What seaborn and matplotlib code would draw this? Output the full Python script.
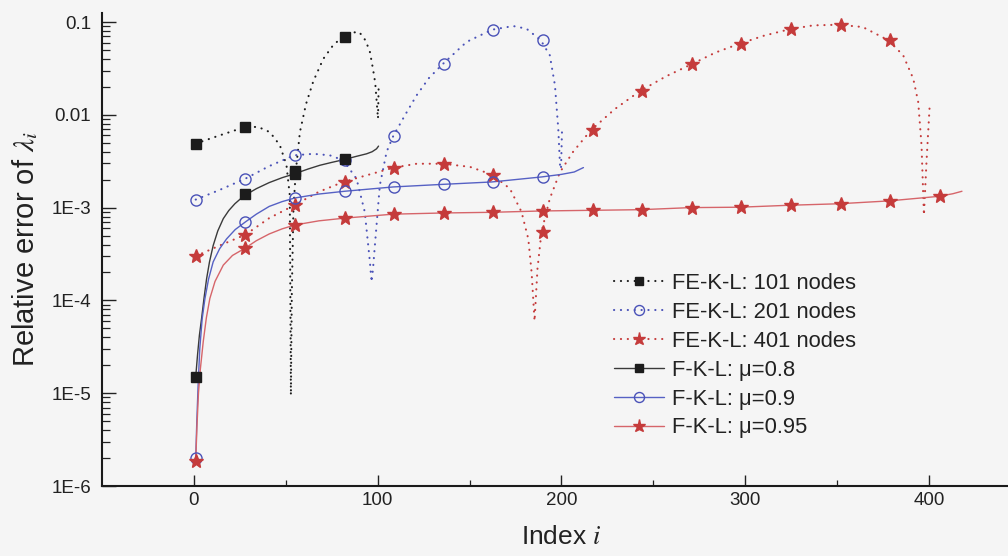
import numpy as np
import pandas as pd
import matplotlib
matplotlib.use("Agg")
import matplotlib.pyplot as plt
from matplotlib.lines import Line2D
from matplotlib.ticker import FixedLocator, NullFormatter, LogLocator
import seaborn as sns

# ---------------- data ----------------
fe101_x = [1, 14, 28, 35, 41.4, 46.8, 50.4, 52.2, 52.8, 53.3, 54.2, 55.5, 57.7, 61, 65, 70.4, 76, 81.3, 86, 90, 93.5, 95.8, 97.5, 98.7, 100.2, 100.6]
fe101_y = [4.9e-3, 6.0e-3, 7.4e-3, 7.4e-3, 6.5e-3, 4.7e-3, 2.86e-3, 1.35e-3, 9.5e-6, 1.2e-4, 1.0e-3, 2.5e-3, 6.5e-3, 1.3e-2, 2.3e-2, 4.0e-2, 5.7e-2, 6.95e-2, 7.7e-2, 7.8e-2, 6.3e-2, 4.75e-2, 3.1e-2, 2.2e-2, 9.1e-3, 2.2e-2]
fe101_mx = [1, 28, 55, 82]
fe101_my = [4.9e-3, 7.4e-3, 2.5e-3, 6.95e-2]

fe201_x = [1, 14, 28, 41, 54.6, 65, 74, 81.3, 88.5, 93, 95.8, 96.7, 97.5, 98.5, 101.2, 104.9, 108.5, 115, 121.2, 128, 135.3, 148.4, 162.2, 173.8, 181, 188.8, 193.7, 196.5, 198.3, 199.3, 199.8, 200.4]
fe201_y = [1.22e-3, 1.55e-3, 2.05e-3, 2.8e-3, 3.66e-3, 3.8e-3, 3.66e-3, 3.24e-3, 2.05e-3, 9e-4, 2.6e-4, 1.58e-4, 2.2e-4, 3.9e-4, 1.74e-3, 4e-3, 5.9e-3, 1.0e-2, 1.62e-2, 2.5e-2, 3.5e-2, 6.1e-2, 8.26e-2, 9.05e-2, 8.47e-2, 6.36e-2, 4.38e-2, 2.08e-2, 7.1e-3, 2.76e-3, 2.6e-3, 7.4e-3]
fe201_mx = [1, 28, 55, 82, 109, 136, 163, 190]
fe201_my = [1.22e-3, 2.05e-3, 3.66e-3, 3.24e-3, 5.9e-3, 3.5e-2, 8.26e-2, 6.36e-2]

fe401_x = [1, 14, 28, 41, 54.6, 68, 81.3, 94, 108.5, 121.2, 135.3, 150.2, 162.2, 172, 178.3, 182, 183.8, 185.4, 187, 189.2, 193.7, 199.2, 206.4, 216, 229, 242.7, 257, 271, 284, 297.1, 310, 324, 337, 351, 364, 378, 386, 391.5, 394.2, 396, 397.3, 398.7, 400.5]
fe401_y = [3.0e-4, 3.9e-4, 5.1e-4, 7.7e-4, 1.06e-3, 1.48e-3, 1.89e-3, 2.23e-3, 2.69e-3, 2.97e-3, 2.97e-3, 2.75e-3, 2.27e-3, 1.6e-3, 9e-4, 4.6e-4, 2e-4, 6e-5, 2.2e-4, 5.5e-4, 1.25e-3, 2.4e-3, 4e-3, 6.8e-3, 1.15e-2, 1.8e-2, 2.6e-2, 3.52e-2, 4.7e-2, 5.85e-2, 7.1e-2, 8.34e-2, 9.2e-2, 9.35e-2, 8.83e-2, 6.35e-2, 4.38e-2, 2.45e-2, 1.37e-2, 4.7e-3, 8.3e-4, 3.1e-3, 1.32e-2]
fe401_mx = [1, 28, 55, 82, 109, 136, 163, 190, 217, 244, 271, 298, 325, 352, 379]
fe401_my = [3.0e-4, 5.1e-4, 1.06e-3, 1.89e-3, 2.69e-3, 2.97e-3, 2.27e-3, 5.5e-4, 6.8e-3, 1.8e-2, 3.52e-2, 5.85e-2, 8.34e-2, 9.35e-2, 6.35e-2]

mu08_x = [1, 2, 3, 4.2, 5.5, 6.9, 8.5, 10.5, 13, 16, 19, 22.3, 25.5, 28.7, 34, 41, 48, 55, 62, 68.6, 75, 82, 88, 94, 97, 99.4, 100.5]
mu08_y = [1.5e-5, 2.6e-5, 4.2e-5, 6.4e-5, 1.05e-4, 1.7e-4, 2.6e-4, 3.9e-4, 5.6e-4, 7.6e-4, 9.3e-4, 1.1e-3, 1.25e-3, 1.39e-3, 1.6e-3, 1.86e-3, 2.1e-3, 2.32e-3, 2.6e-3, 2.86e-3, 3.07e-3, 3.3e-3, 3.55e-3, 3.8e-3, 4.0e-3, 4.3e-3, 4.6e-3]
mu08_mx = [1, 28, 55, 82]
mu08_my = [1.5e-5, 1.39e-3, 2.32e-3, 3.3e-3]

mu09_x = [1, 1.6, 2.3, 3.2, 4.5, 6, 8, 10.5, 14, 17.8, 22.5, 28, 34, 41, 48, 55, 68, 82, 108.5, 135.3, 162.2, 189.2, 200, 207, 212]
mu09_y = [2e-6, 5e-6, 1.2e-5, 3e-5, 6.3e-5, 1.04e-4, 1.7e-4, 2.6e-4, 3.6e-4, 4.6e-4, 5.8e-4, 7e-4, 8.5e-4, 1.03e-3, 1.16e-3, 1.27e-3, 1.4e-3, 1.5e-3, 1.67e-3, 1.78e-3, 1.89e-3, 2.14e-3, 2.28e-3, 2.42e-3, 2.7e-3]
mu09_mx = [1, 28, 55, 82, 109, 136, 163, 190]
mu09_my = [2e-6, 7e-4, 1.27e-3, 1.5e-3, 1.67e-3, 1.78e-3, 1.89e-3, 2.14e-3]

mu095_x = [1, 1.7, 2.5, 3.5, 5.1, 6.8, 8.7, 11.5, 16, 21, 28, 34, 41, 48, 55, 68, 82, 108.5, 135.3, 162.2, 189.2, 216.4, 243.3, 270.3, 297.1, 324, 351, 378, 405, 413, 418]
mu095_y = [1.85e-6, 4.5e-6, 1e-5, 1.8e-5, 3.6e-5, 6.5e-5, 1.05e-4, 1.6e-4, 2.4e-4, 3.05e-4, 3.67e-4, 4.4e-4, 5.2e-4, 5.9e-4, 6.5e-4, 7.2e-4, 7.7e-4, 8.5e-4, 8.75e-4, 8.9e-4, 9.2e-4, 9.35e-4, 9.5e-4, 1.0e-3, 1.01e-3, 1.06e-3, 1.1e-3, 1.18e-3, 1.32e-3, 1.41e-3, 1.5e-3]
mu095_mx = [1, 28, 55, 82, 109, 136, 163, 190, 217, 244, 271, 298, 325, 352, 379, 406]
mu095_my = [1.85e-6, 3.67e-4, 6.5e-4, 7.7e-4, 8.5e-4, 8.75e-4, 8.9e-4, 9.2e-4, 9.35e-4, 9.5e-4, 1.0e-3, 1.01e-3, 1.06e-3, 1.1e-3, 1.18e-3, 1.32e-3]

labels = ["FE-K-L: 101 nodes", "FE-K-L: 201 nodes", "FE-K-L: 401 nodes",
          "F-K-L: \u03bc=0.8", "F-K-L: \u03bc=0.9", "F-K-L: \u03bc=0.95"]
x_ticks = [0, 100, 200, 300, 400]
y_ticks = [1e-6, 1e-5, 1e-4, 1e-3, 1e-2, 1e-1]
y_ticklabels = ["1E-6", "1E-5", "1E-4", "1E-3", "0.01", "0.1"]

# ---------------- style ----------------
sns.set_theme(style="ticks")
BG = "#f5f5f5"
plt.rcParams["font.family"] = ["Liberation Sans", "DejaVu Sans"]
plt.rcParams["mathtext.fontset"] = "stix"
plt.rcParams["figure.facecolor"] = BG
plt.rcParams["axes.facecolor"] = BG
plt.rcParams["savefig.facecolor"] = BG

BLACK = "#1c1c1c"
BLUE = "#4a52b8"
RED = "#c53b3b"
BLACK_L = "#3a3a3a"
BLUE_L = "#5661c4"
RED_L = "#d6656a"

fig = plt.figure(figsize=(10.08, 5.56), dpi=100)
ax = fig.add_axes([102 / 1008, 70 / 556, 918.75 / 1008, 473.3 / 556])

dot = (0, (0.1, 3.2))
series = [
    (fe101_x, fe101_y, fe101_mx, fe101_my, BLACK, dot, "s", BLACK, BLACK, 7.0),
    (fe201_x, fe201_y, fe201_mx, fe201_my, BLUE, dot, "o", "none", BLUE, 8.0),
    (fe401_x, fe401_y, fe401_mx, fe401_my, RED, dot, "*", RED, RED, 10.5),
    (mu08_x, mu08_y, mu08_mx, mu08_my, BLACK_L, "-", "s", BLACK, BLACK, 7.0),
    (mu09_x, mu09_y, mu09_mx, mu09_my, BLUE_L, "-", "o", "none", BLUE, 8.0),
    (mu095_x, mu095_y, mu095_mx, mu095_my, RED_L, "-", "*", RED, RED, 10.5),
]

handles = []
for (lx, ly, mx, my, lc, ls, mk, mfc, mec, ms), lab in zip(series, labels):
    lw = 1.5 if ls is dot else 1.0
    df_line = pd.DataFrame({"x": lx, "y": ly})
    sns.lineplot(data=df_line, x="x", y="y", ax=ax, color=lc, linestyle=ls,
                 linewidth=lw, estimator=None, sort=False, dash_capstyle="round",
                 zorder=2)
    df_m = pd.DataFrame({"x": mx, "y": my})
    sns.lineplot(data=df_m, x="x", y="y", ax=ax, linestyle="none", marker=mk,
                 markersize=ms, markerfacecolor=mfc, markeredgecolor=mec,
                 markeredgewidth=1.0, estimator=None, sort=False, zorder=3)
    handles.append(Line2D([0], [0], color=lc, linestyle=ls, linewidth=lw,
                          marker=mk, markersize=ms * 0.9, markerfacecolor=mfc,
                          markeredgecolor=mec, dash_capstyle="round"))

ax.set_yscale("log")
ax.set_xlim(-50, 450)
ax.set_ylim(1e-6, 0.126)

ax.set_yticks(y_ticks)
ax.set_yticklabels(y_ticklabels)
ax.yaxis.set_minor_locator(LogLocator(base=10, subs=np.arange(2, 10)))
ax.yaxis.set_minor_formatter(NullFormatter())
ax.set_xticks(x_ticks)
ax.set_xticklabels([str(v) for v in x_ticks])
ax.xaxis.set_minor_locator(FixedLocator([50, 150, 250, 350]))

ax.tick_params(axis="y", which="major", direction="in", length=10, width=1.0,
               labelsize=13.5, colors="#222222", pad=8)
ax.tick_params(axis="y", which="minor", direction="in", length=6, width=0.9,
               colors="#222222")
ax.tick_params(axis="x", which="major", direction="in", length=8, width=1.0,
               labelsize=13.5, colors="#222222", pad=4)
ax.tick_params(axis="x", which="minor", direction="in", length=4, width=0.9,
               colors="#222222")
for s in ["top", "right"]:
    ax.spines[s].set_visible(False)
for s in ["left", "bottom"]:
    ax.spines[s].set_linewidth(1.5)
    ax.spines[s].set_color("#1a1a1a")

ax.set_xlabel("Index $i$", fontsize=19, color="#222222", labelpad=12)
ax.set_ylabel("Relative error of $\\lambda_i$", fontsize=21, color="#222222", labelpad=8)

leg = ax.legend(handles, labels, loc="upper left", bbox_to_anchor=(603 / 1008, 1 - 262 / 556),
                bbox_transform=fig.transFigure, frameon=False, fontsize=15.8,
                handlelength=2.3, handletextpad=0.35, labelspacing=0.36,
                borderpad=0.0)
for t in leg.get_texts():
    t.set_color("#222222")

fig.savefig("out.png", dpi=100)
